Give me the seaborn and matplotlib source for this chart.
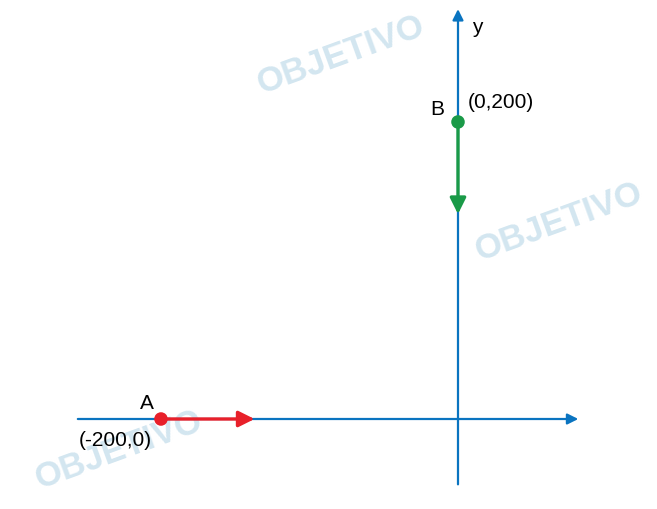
import matplotlib
matplotlib.use('Agg')
import matplotlib.pyplot as plt
import seaborn as sns
import pandas as pd

# points of the problem
point_names = ['A', 'B']
point_x = [-200, 0]
point_y = [0, 200]
point_labels = ['(-200,0)', '(0,200)']
point_colors = ['#e8202a', '#1a9a48']

# velocity arrows: start -> end
arrow_start_x = [-200, 0]
arrow_start_y = [0, 200]
arrow_end_x = [-137, 0]
arrow_end_y = [0, 138]

# axes extent
x_axis = [-256, 81]
y_axis = [-44, 276]

AXIS_BLUE = '#0a74c0'
WATERMARK = '#d3e6f0'

sns.set_style('white')
plt.rcParams['font.family'] = ['Liberation Sans', 'DejaVu Sans']

fig = plt.figure(figsize=(6.57, 5.10), dpi=100)
ax = fig.add_axes([0, 0, 1, 1])
ax.set_xlim(-308.4, 134.0)
ax.set_ylim(-60.6, 282.8)
ax.axis('off')

# watermarks
for x, y in [(-79, 246), (68, 133), (-228, -20)]:
    ax.text(x, y, 'OBJETIVO', color=WATERMARK, fontsize=25, fontweight='bold',
            rotation=20, ha='center', va='center', zorder=0)

# coordinate axes with arrowheads
ax.annotate('', xy=(x_axis[1], 0), xytext=(x_axis[0], 0),
            arrowprops=dict(arrowstyle='-|>', color=AXIS_BLUE, lw=1.6,
                            mutation_scale=16, shrinkA=0, shrinkB=0), zorder=1)
ax.annotate('', xy=(0, y_axis[1]), xytext=(0, y_axis[0]),
            arrowprops=dict(arrowstyle='-|>', color=AXIS_BLUE, lw=1.6,
                            mutation_scale=16, shrinkA=0, shrinkB=0), zorder=1)

# velocity arrows
for sx, sy, ex, ey, c in zip(arrow_start_x, arrow_start_y, arrow_end_x, arrow_end_y, point_colors):
    ax.annotate('', xy=(ex, ey), xytext=(sx, sy),
                arrowprops=dict(arrowstyle='-|>', color=c, lw=2.4,
                                mutation_scale=24, shrinkA=0, shrinkB=0), zorder=2)

pts = pd.DataFrame({'name': point_names, 'x': point_x, 'y': point_y})
sns.scatterplot(data=pts, x='x', y='y', hue='name', palette=point_colors,
                s=95, edgecolor='none', legend=False, ax=ax, zorder=3)

# labels
txt = dict(fontsize=15, color='black', va='center')
ax.text(-209.4, 11.4, 'A', ha='center', **txt)
ax.text(-231, -14, point_labels[0], ha='center', **txt)
ax.text(-14.1, 209.4, 'B', ha='center', **txt)
ax.text(6.5, 213.5, point_labels[1], ha='left', **txt)
ax.text(12.8, 264.6, 'y', ha='center', **txt)

fig.savefig('out.png', dpi=100)
plt.close()
